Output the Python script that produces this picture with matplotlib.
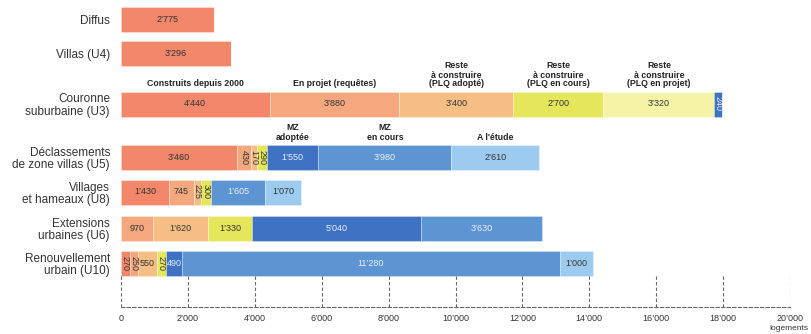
import matplotlib
matplotlib.use("Agg")
import matplotlib.pyplot as plt

categories = ["Diffus", "Villas (U4)", "Couronne\nsuburbaine (U3)",
              "Déclassements\nde zone villas (U5)", "Villages\net hameaux (U8)",
              "Extensions\nurbaines (U6)", "Renouvellement\nurbain (U10)"]
construits    = [2775, 3296, 4440, 3460, 1430, 0, 270]
en_projet     = [0, 0, 3880, 430, 745, 970, 250]
plq_adopte    = [0, 0, 3400, 170, 225, 1620, 550]
plq_en_cours  = [0, 0, 2700, 290, 300, 1330, 270]
plq_en_projet = [0, 0, 3320, 0, 0, 0, 0]
mz_adoptee    = [0, 0, 240, 1550, 0, 5040, 490]
mz_en_cours   = [0, 0, 0, 3980, 1605, 3630, 11280]
etude         = [0, 0, 0, 2610, 1070, 0, 1000]
xticks = list(range(0, 20001, 2000))

series = [construits, en_projet, plq_adopte, plq_en_cours, plq_en_projet,
          mz_adoptee, mz_en_cours, etude]
colors = ["#F3876A", "#F5A77D", "#F4BE85", "#E6E65C", "#F5F3A6",
          "#3F72C2", "#5D94D2", "#9DCBF0"]
text_colors = ["#333333"] * 5 + ["#E8F0FA", "#E8F0FA", "#333333"]

# layout (pixel-like y positions, inverted axis)
ypos = [19.5, 53.5, 104, 157, 192, 228.5, 263]
bar_h = 25

W, H = 811, 334
fig = plt.figure(figsize=(W / 100, H / 100), dpi=100)
ax = fig.add_axes([121 / W, 27 / H, 669 / W, 307 / H])
ax.set_xlim(0, 20000)
ax.set_ylim(307, 0)

narrow = ["Liberation Sans Narrow", "Liberation Sans", "DejaVu Sans"]
sans = ["Liberation Sans", "DejaVu Sans"]

def fmt(v):
    s = f"{v:,}".replace(",", "’")
    return s

lefts = [0] * len(categories)
seg_centers = {}
for si, (vals, col, tc) in enumerate(zip(series, colors, text_colors)):
    ax.barh(ypos, vals, left=lefts, height=bar_h, color=col,
            edgecolor=(1, 1, 1, 0.5), linewidth=0.4)
    for ci, v in enumerate(vals):
        if v > 0:
            cx = lefts[ci] + v / 2
            seg_centers[(ci, si)] = cx
            rot = 270 if v < 450 else 0
            ax.text(cx, ypos[ci], fmt(v), ha="center", va="center",
                    fontsize=6.5, color=tc, rotation=rot, family=narrow)
    lefts = [l + v for l, v in zip(lefts, vals)]

# headers above Couronne (index 2)
hdr1 = ["Construits depuis 2000", "En projet (requêtes)",
        "Reste\nà construire\n(PLQ adopté)", "Reste\nà construire\n(PLQ en cours)",
        "Reste\nà construire\n(PLQ en projet)"]
for si, t in enumerate(hdr1):
    ax.text(seg_centers[(2, si)], ypos[2] - bar_h / 2 - 3, t, ha="center",
            va="bottom", fontsize=6.3, fontweight="bold", family=sans,
            linespacing=1.0, color="#222222")
# headers above Déclassements (index 3)
hdr2 = {5: "MZ\nadoptée", 6: "MZ\nen cours", 7: "A l'étude"}
for si, t in hdr2.items():
    ax.text(seg_centers[(3, si)], ypos[3] - bar_h / 2 - 3, t, ha="center",
            va="bottom", fontsize=6.3, fontweight="bold", family=sans,
            linespacing=1.0, color="#222222")

ax.set_yticks(ypos)
ax.set_yticklabels(categories, fontsize=8.5, family=sans, color="#333333",
                   linespacing=1.05)
ax.tick_params(axis="y", length=0, pad=8)
for lab in ax.get_yticklabels():
    lab.set_horizontalalignment("right")

ax.set_xticks(xticks)
ax.set_xticklabels([fmt(v) for v in xticks], fontsize=6.5, family=narrow,
                   color="#333333")
ax.tick_params(axis="x", length=0, pad=5)

ax.vlines(xticks, 276, 307, colors="#666666", linestyles=(0, (3, 2)),
          linewidth=0.8)
for s in ["top", "right", "left"]:
    ax.spines[s].set_visible(False)
ax.spines["bottom"].set_linestyle((0, (3, 2)))
ax.spines["bottom"].set_color("#666666")
ax.spines["bottom"].set_linewidth(0.8)

fig.text(769 / W, 1 - 328 / H, "logements", fontsize=6, family=narrow,
         ha="left", va="center", color="#333333")

fig.savefig("out.png", dpi=100)
